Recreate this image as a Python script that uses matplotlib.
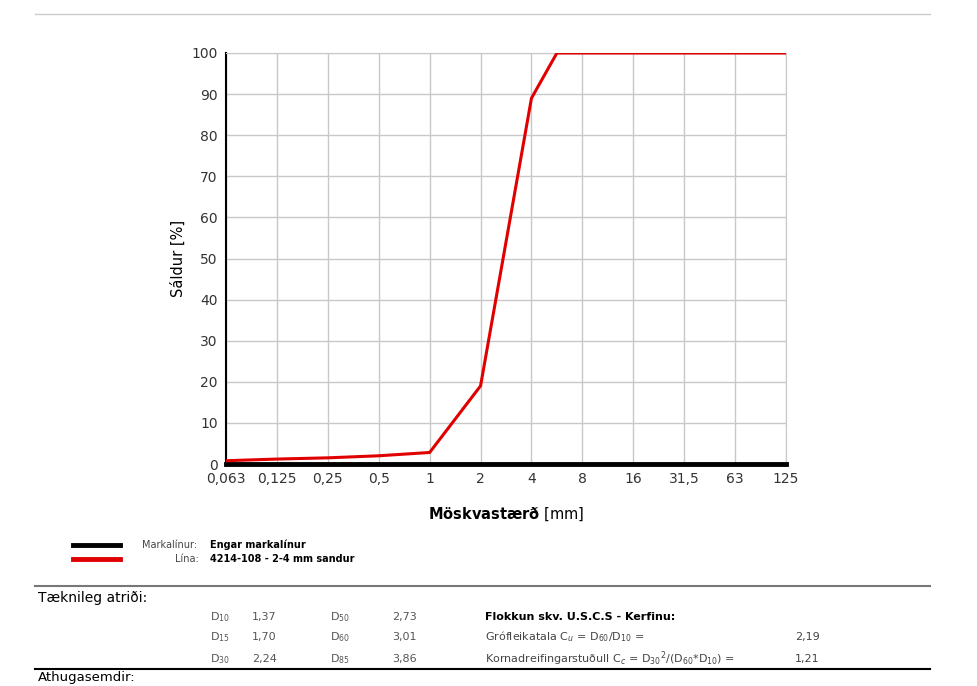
import matplotlib
matplotlib.use("Agg")
import matplotlib.pyplot as plt
from matplotlib.lines import Line2D

tick_labels = ["0,063","0,125","0,25","0,5","1","2","4","8","16","31,5","63","125"]
x_pos = [0, 1, 2, 3, 4, 5, 6, 6.5, 7, 8, 9, 10, 11]
passing = [0.8, 1.2, 1.5, 2.0, 2.8, 19, 89, 100, 100, 100, 100, 100, 100]
marker_x = [0, 11]
marker_y = [0, 0]

W, H = 978, 686
fig = plt.figure(figsize=(W/100, H/100), dpi=100)
fig.patch.set_facecolor("white")
ax = fig.add_axes([226/W, 1-464/H, (786-226)/W, (464-53)/H])
ax.plot(marker_x, marker_y, color="black", lw=3.5, zorder=4, clip_on=False)
ax.plot(x_pos, passing, color="#e00000", lw=2.2, zorder=5)
ax.set_xlim(0, 11); ax.set_ylim(0, 100)
ax.set_xticks(range(len(tick_labels))); ax.set_xticklabels(tick_labels)
ax.set_yticks(range(0, 101, 10))
ax.grid(True, color="#c8c8c8", lw=1)
ax.tick_params(length=0, labelsize=10, colors="#333333", pad=6)
for s in ax.spines.values():
    s.set_color("#c8c8c8")
ax.spines["left"].set_color("black"); ax.spines["left"].set_linewidth(1.5)
ax.set_ylabel("Sáldur [%]", fontsize=10.5)
ax.set_xlabel(r"$\mathbf{Möskvastærð}$ [mm]", fontsize=10.5, labelpad=14)

def px(x, y): return (x/W, 1-y/H)
def hline(x0, x1, y, color, lw):
    fig.add_artist(Line2D([x0/W, x1/W], [1-y/H, 1-y/H], color=color, lw=lw))

hline(35, 930, 14, "#cccccc", 1)
hline(73, 120, 545, "black", 3.5)
hline(73, 120, 559, "#e00000", 3.5)
fig.text(*px(142, 545), "Markalínur: ", fontsize=7, va="center", color="#444")
fig.text(*px(210, 545), "Engar markalínur", fontsize=7, va="center", weight="bold")
fig.text(*px(175, 559), "Lína: ", fontsize=7, va="center", color="#444")
fig.text(*px(210, 559), "4214-108 - 2-4 mm sandur", fontsize=7, va="center", weight="bold")
hline(35, 930, 586, "#777777", 1.5)
fig.text(*px(38, 598), "Tæknileg atriði:", fontsize=10, va="center")
rows = [("D$_{10}$", "1,37", "D$_{50}$", "2,73"),
        ("D$_{15}$", "1,70", "D$_{60}$", "3,01"),
        ("D$_{30}$", "2,24", "D$_{85}$", "3,86")]
ys = [617, 637, 659]
for (a, b, c, d), y in zip(rows, ys):
    for xx, t in zip([210, 252, 330, 392], [a, b, c, d]):
        fig.text(*px(xx, y), t, fontsize=8, va="center", color="#555")
fig.text(*px(485, 617), "Flokkun skv. U.S.C.S - Kerfinu:", fontsize=8, va="center", weight="bold")
fig.text(*px(485, 637), "Grófleikatala C$_{u}$ = D$_{60}$/D$_{10}$ =", fontsize=8, va="center", color="#444")
fig.text(*px(485, 659), "Kornadreifingarstuðull C$_{c}$ = D$_{30}$$^{2}$/(D$_{60}$*D$_{10}$) =", fontsize=8, va="center", color="#444")
fig.text(*px(795, 637), "2,19", fontsize=8, va="center", color="#444")
fig.text(*px(795, 659), "1,21", fontsize=8, va="center", color="#444")
hline(35, 930, 669, "black", 1.5)
fig.text(*px(38, 678), "Athugasemdir:", fontsize=9.5, va="center")
fig.savefig("out.png", dpi=100)
